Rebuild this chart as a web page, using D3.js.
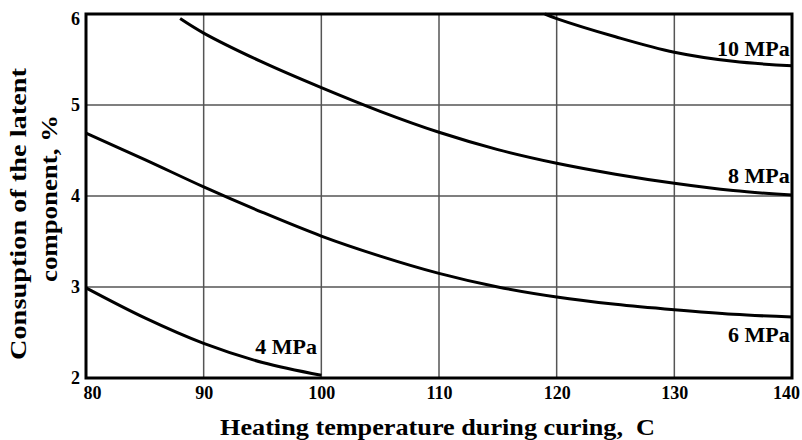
<!DOCTYPE html>
<html lang="en">
<head>
  <meta charset="UTF-8" />
  <title>Consumption of the latent component</title>
  <script src="https://d3js.org/d3.v7.min.js"></script>
  <style>
    body {
      margin: 0;
      padding: 0;
      background: #ffffff;
    }
    #chart text {
      font-family: "Liberation Serif", "Times New Roman", serif;
      font-weight: bold;
      fill: #000;
      white-space: pre;
    }
  </style>
</head>
<body>
  <div id="chart"></div>

  <script>
    // values
    const xTicks = [80, 90, 100, 110, 120, 130, 140];
    const yTicks = [2, 3, 4, 5, 6];

    const temps4 = [80, 85, 90, 95, 100];
    const vals4  = [2.99, 2.66, 2.38, 2.17, 2.03];

    const temps6 = [80, 85, 90, 95, 100, 105, 110, 115, 120, 125, 130, 135, 140];
    const vals6  = [4.69, 4.40, 4.10, 3.82, 3.56, 3.34, 3.15, 3.00, 2.89, 2.81, 2.75, 2.70, 2.67];

    const temps8 = [88, 90, 95, 100, 105, 110, 115, 120, 125, 130, 135, 140];
    const vals8  = [5.95, 5.79, 5.47, 5.19, 4.93, 4.70, 4.51, 4.36, 4.24, 4.14, 4.06, 4.01];

    const temps10 = [119, 120, 125, 130, 135, 140];
    const vals10  = [6.00, 5.95, 5.75, 5.58, 5.48, 5.43];

    const seriesNames = ["4 MPa", "6 MPa", "8 MPa", "10 MPa"];

    const width = 802, height = 440;
    const margin = { top: 14, right: 10, bottom: 62, left: 86 };
    const innerWidth = width - margin.left - margin.right;
    const innerHeight = height - margin.top - margin.bottom;

    const svg = d3.select("#chart")
      .append("svg")
      .attr("width", width)
      .attr("height", height);

    const g = svg.append("g")
      .attr("transform", `translate(${margin.left},${margin.top})`);

    const xScale = d3.scaleLinear().domain([80, 140]).range([0, innerWidth]);
    const yScale = d3.scaleLinear().domain([2, 6]).range([innerHeight, 0]);

    // grid
    g.append("g")
      .selectAll("line")
      .data(xTicks)
      .enter()
      .append("line")
      .attr("x1", d => xScale(d)).attr("x2", d => xScale(d))
      .attr("y1", 0).attr("y2", innerHeight)
      .attr("stroke", "#555").attr("stroke-width", 1.5);

    g.append("g")
      .selectAll("line")
      .data(yTicks)
      .enter()
      .append("line")
      .attr("x1", 0).attr("x2", innerWidth)
      .attr("y1", d => yScale(d)).attr("y2", d => yScale(d))
      .attr("stroke", "#555").attr("stroke-width", 1.5);

    // axes (labels only, frame drawn below)
    const xAxis = d3.axisBottom(xScale)
      .tickValues(xTicks)
      .tickFormat(d3.format("d"))
      .tickSize(0)
      .tickPadding(8);
    const yAxis = d3.axisLeft(yScale)
      .tickValues(yTicks)
      .tickFormat(d3.format("d"))
      .tickSize(0)
      .tickPadding(6);

    g.append("g")
      .attr("transform", `translate(0,${innerHeight})`)
      .call(xAxis)
      .call(a => a.select(".domain").remove())
      .selectAll("text")
      .style("font-size", "18px")
      // first and last labels sit a little inside the frame
      .attr("dx", d => d === 80 ? 6 : d === 140 ? -6 : 0);

    g.append("g")
      .call(yAxis)
      .call(a => a.select(".domain").remove())
      .selectAll("text")
      .style("font-size", "18px")
      .attr("dy", d => d === 6 ? "0.6em" : "0.32em");

    // frame
    g.append("rect")
      .attr("x", 0).attr("y", 0)
      .attr("width", innerWidth).attr("height", innerHeight)
      .attr("fill", "none")
      .attr("stroke", "#000")
      .attr("stroke-width", 3);

    // curves
    const lineGen = d3.line()
      .x(d => xScale(d[0]))
      .y(d => yScale(d[1]))
      .curve(d3.curveCatmullRom.alpha(0.5));

    const series = [
      d3.zip(temps4, vals4),
      d3.zip(temps6, vals6),
      d3.zip(temps8, vals8),
      d3.zip(temps10, vals10)
    ];

    series.forEach(pts => {
      g.append("path")
        .datum(pts)
        .attr("fill", "none")
        .attr("stroke", "#000")
        .attr("stroke-width", 3)
        .attr("d", lineGen);
    });

    // curve labels
    const labelPos = [
      { x: 97.0, y: 2.26, anchor: "middle" },
      { x: 139.8, y: 2.40, anchor: "end" },
      { x: 139.8, y: 4.14, anchor: "end" },
      { x: 139.8, y: 5.54, anchor: "end" }
    ];
    seriesNames.forEach((name, i) => {
      g.append("text")
        .attr("x", xScale(labelPos[i].x))
        .attr("y", yScale(labelPos[i].y))
        .attr("text-anchor", labelPos[i].anchor)
        .style("font-size", "22px")
        .text(name);
    });

    // axis titles
    svg.append("text")
      .attr("x", 220)
      .attr("y", 435)
      .attr("textLength", 435)
      .attr("lengthAdjust", "spacingAndGlyphs")
      .style("font-size", "23px")
      .text("Heating temperature during curing,  C");

    svg.append("text")
      .attr("transform", "translate(26,360) rotate(-90)")
      .attr("textLength", 292)
      .attr("lengthAdjust", "spacingAndGlyphs")
      .style("font-size", "23px")
      .text("Consuption of the latent");

    svg.append("text")
      .attr("transform", "translate(57,282) rotate(-90)")
      .attr("textLength", 167)
      .attr("lengthAdjust", "spacingAndGlyphs")
      .style("font-size", "23px")
      .text("component, %");
  </script>
</body>
</html>
